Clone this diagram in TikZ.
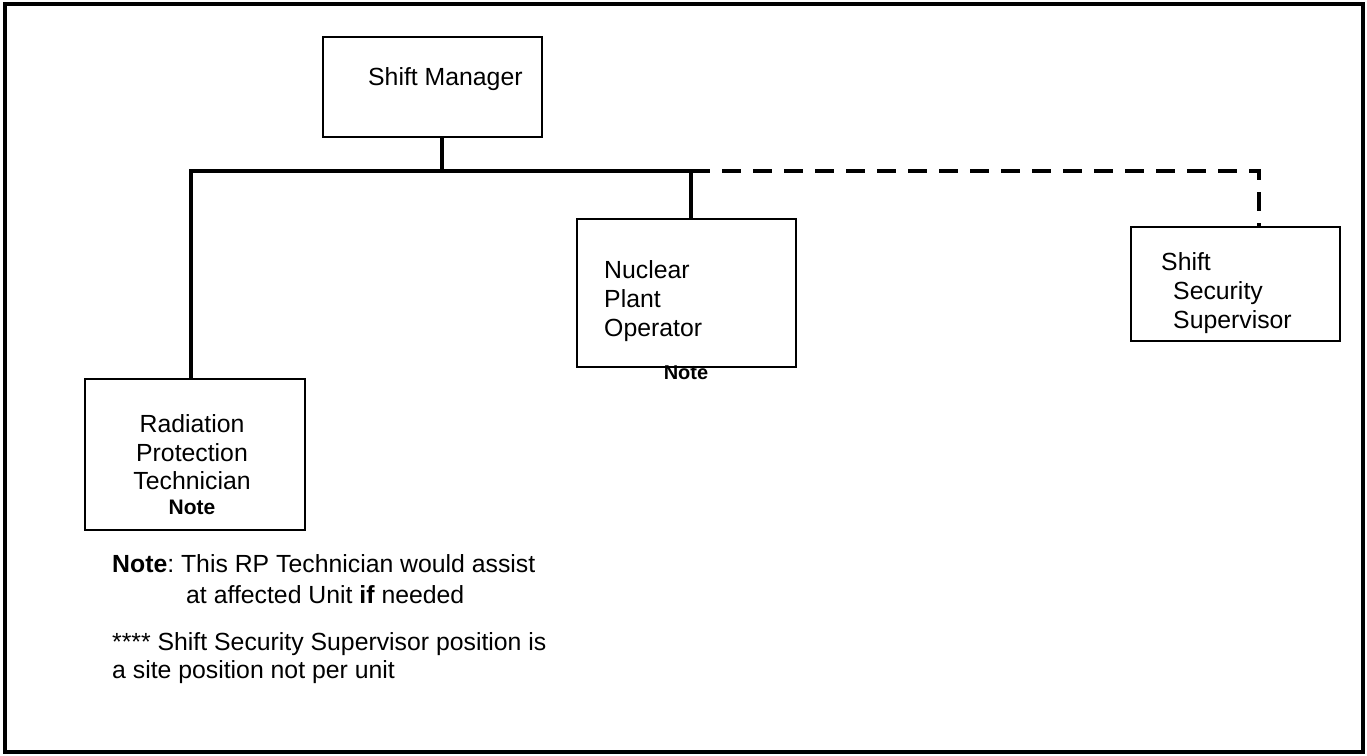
\documentclass[tikz,border=0pt]{standalone}
\usepackage{fontspec}
\setmainfont{Liberation Sans}
\frenchspacing
\begin{document}
\begin{tikzpicture}[x=1pt,y=-1pt,
  box/.style={draw, line width=2.8pt, inner sep=0pt},
  conn/.style={line width=4.8pt},
  dconn/.style={line width=4.8pt, dash pattern=on 19pt off 12pt},
  lbl/.style={anchor=base west, inner sep=0pt, font=\fontsize{24.8}{29}\selectfont},
  clbl/.style={anchor=base, inner sep=0pt, font=\fontsize{24.8}{29}\selectfont},
  nlbl/.style={anchor=base, inner sep=0pt, font=\fontsize{21}{25}\selectfont\bfseries},
  frame/.style={draw, line width=3.2pt}]
\useasboundingbox (0,0) rectangle (1367,755);
\node[frame, minimum width=1358pt, minimum height=748pt, inner sep=0pt] (fr) at (684,378) {};

% boxes
\node[box, minimum width=219pt, minimum height=100pt] (sm) at (432.5,87) {};
\node[box, minimum width=220pt, minimum height=151pt] (rpt) at (195,454.5) {};
\node[box, minimum width=219pt, minimum height=148pt] (npo) at (686.5,293) {};
\node[box, minimum width=209pt, minimum height=114pt] (sss) at (1235.5,284) {};

% texts
\node[lbl] (smt) at (368,85) {Shift Manager};
\node[clbl] (rpt1) at (192,432) {Radiation};
\node[clbl] (rpt2) at (192,461) {Protection};
\node[clbl] (rpt3) at (192,489) {Technician};
\node[nlbl] (rpt4) at (192,514) {Note};
\node[nlbl, font=\fontsize{20}{24}\selectfont\bfseries] (npo4) at (686,379) {Note};
\node[lbl] (npo1) at (604,278) {Nuclear};
\node[lbl] (npo2) at (604,307) {Plant};
\node[lbl] (npo3) at (604,336) {Operator};
\node[lbl] (sss1) at (1161,270) {Shift};
\node[lbl] (sss2) at (1173,299) {Security};
\node[lbl] (sss3) at (1173,328) {Supervisor};
\node[lbl] (n1) at (112,572) {\textbf{Note}: This RP Technician would assist};
\node[lbl] (n2) at (186,603) {at affected Unit \textbf{if} needed};
\node[lbl] (n3) at (112,650) {**** Shift Security Supervisor position is};
\node[lbl] (n4) at (112,678) {a site position not per unit};

% connectors
\coordinate (j) at (442,171);
\coordinate (jl) at (191,171);
\coordinate (jn) at (691,171);
\coordinate (js) at (1259,171);
\draw[conn] (j |- sm.south) -- (j);
\draw[conn] (jn) -- (jl) -- (jl |- rpt.north);
\draw[conn] (jn) -- (jn |- npo.north);
\draw[dconn] (jn) -- (js) -- (js |- sss.north);
\end{tikzpicture}
\end{document}
